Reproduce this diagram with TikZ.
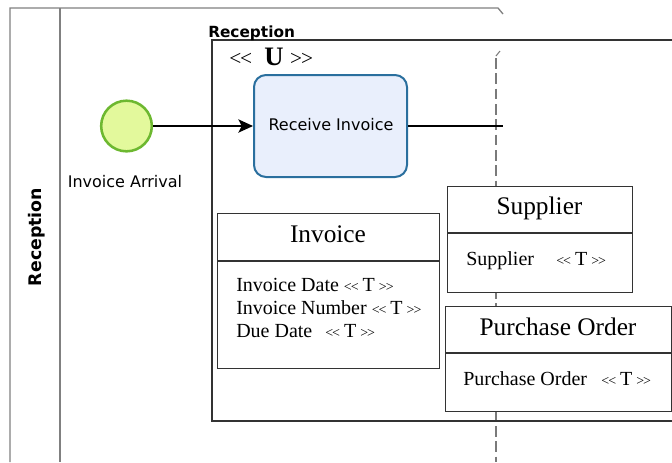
\documentclass[tikz,border=0pt]{standalone}
\usepackage{fontspec}
\setmainfont{Liberation Serif}
\newfontfamily\uisans{DejaVu Sans}
\usetikzlibrary{arrows.meta}

\definecolor{poolline}{HTML}{808080}
\definecolor{boxline}{HTML}{333333}
\definecolor{taskfill}{HTML}{E9EFFC}
\definecolor{taskdraw}{HTML}{2A6F9E}
\definecolor{evfill}{HTML}{E3F99C}
\definecolor{evdraw}{HTML}{6DB830}
\definecolor{flowgray}{HTML}{7A7A7A}

% doubled chevrons of a stereotype, in a size of their own
\newcommand\chev[2]{{\fontsize{#1}{#1}\selectfont#2\kern-0.8pt#2}}
\newcommand\stereoT{\chev{10.5}{<}\hspace{3pt}T\hspace{3pt}\chev{10.5}{>}}

\begin{document}
\begin{tikzpicture}[x=0.75pt,y=-0.75pt,
  poolstroke/.style={draw=poolline,line width=1pt},
  groupstroke/.style={draw=boxline,line width=1.1pt},
  classbox/.style={draw=boxline,line width=1.1pt,fill=white,anchor=north west,inner sep=0pt},
  classtitle/.style={font=\fontsize{19}{22}\selectfont,anchor=base,inner sep=0pt},
  attrtext/.style={font=\fontsize{15}{17}\selectfont,anchor=base west,inner sep=0pt},
  uitext/.style={font=\uisans\fontsize{12}{14}\selectfont,inner sep=0pt},
  flow/.style={draw=black,line width=0.9pt},
]
\useasboundingbox (0,0) rectangle (672,462);

% pool outline and lane divider
\draw[poolstroke] (10,462) -- (10,8) -- (498,8) -- (503,14);
\draw[poolstroke] (60,8) -- (60,462);
\node[rotate=90,font=\uisans\bfseries\fontsize{13}{15}\selectfont,inner sep=0pt] (lanename) at (36.5,237) {Reception};

% dashed separator running down behind the data objects
\draw[flowgray,line width=1.1pt,dash pattern=on 8pt off 3.5pt] (496,58) -- (496,462);
\draw[flowgray,line width=0.8pt] (496,56) -- (500,51);

% group box with its title and stereotype
\draw[groupstroke] (672,40) -- (212,40) -- (212,421) -- (672,421);
\node[font=\uisans\bfseries\fontsize{11.5}{13}\selectfont,anchor=base west,inner sep=0pt] (grouptitle) at (208,37) {Reception};
\node[anchor=base west,inner sep=0pt] (groupstereo) at (229,65) {\chev{16}{<}\hspace{9pt}{\fontsize{20}{22}\selectfont\textbf{U}}\hspace{5pt}\chev{16}{>}};

% start event and task
\node[circle,draw=evdraw,fill=evfill,line width=1.9pt,minimum size=38pt,inner sep=0pt] (start) at (126.5,126) {};
\node[uitext,anchor=base] (startlabel) at (125,187) {Invoice Arrival};
\node[draw=taskdraw,fill=taskfill,line width=1.5pt,rounded corners=9pt,minimum width=114.75pt,minimum height=76.5pt,inner sep=0pt] (task) at (330.5,126) {};
\node[uitext,anchor=base] (tasklabel) at (331,130) {Receive Invoice};
\coordinate (flowend) at (503,126);

\draw[flow,-{Stealth[length=11pt,width=10pt,inset=2.5pt]}] (start) -- (task);
\draw[flow] (task.east) -- (flowend);

% data object: Invoice
\node[classbox,minimum width=166.5pt,minimum height=116.25pt] (invoice) at (217,213) {};
\draw[groupstroke] (217,261) -- (439,261);
\node[classtitle] (invoicetitle) at (328,242) {Invoice};
\node[attrtext] (invdate) at (236,291) {Invoice Date \stereoT};
\node[attrtext] (invnum) at (236,314) {Invoice Number \stereoT};
\node[attrtext] (invdue) at (236,337) {Due Date\hspace{6pt} \stereoT};

% data object: Supplier
\node[classbox,minimum width=138.75pt,minimum height=79.5pt] (supplier) at (447,186) {};
\draw[groupstroke] (447,233) -- (632,233);
\node[classtitle] (suppliertitle) at (539.5,214) {Supplier};
\node[attrtext] (supattr) at (466,265) {Supplier\hspace{13pt} \stereoT};

% data object: Purchase Order
\node[classbox,minimum width=169.5pt,minimum height=78.75pt] (porder) at (445,306) {};
\draw[groupstroke] (445,353) -- (671,353);
\node[classtitle] (pordertitle) at (558,335) {Purchase Order};
\node[attrtext] (poattr) at (463,385) {Purchase Order\hspace{7pt} \stereoT};
\end{tikzpicture}
\end{document}
